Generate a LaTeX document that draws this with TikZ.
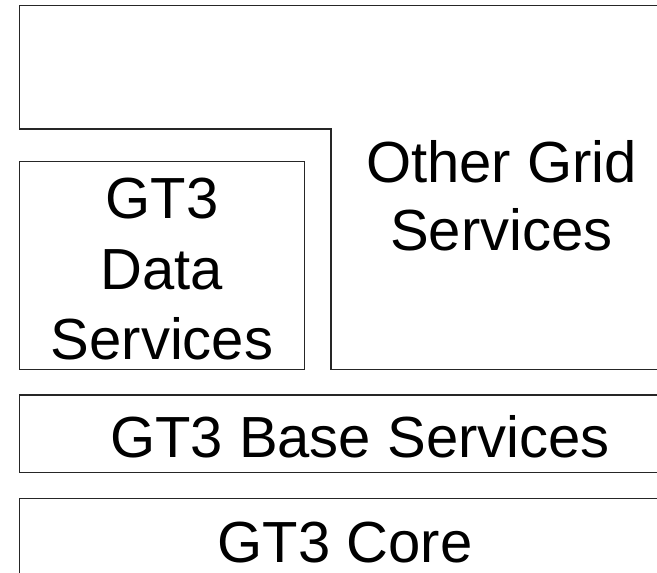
\documentclass[tikz,border=0pt]{standalone}
\usepackage{fontspec}
\setmainfont{Liberation Sans}
\begin{document}
\begin{tikzpicture}[x=1pt,y=-1pt,
  layer/.style={draw=black!85,line width=1.3pt},
  lbl/.style={font=\fontsize{58}{67}\selectfont,anchor=base,inner sep=0pt,align=center}]
\useasboundingbox (0,0) rectangle (657,573);
\clip (0,0) rectangle (657,573);
% Other Grid Services (L-shape)
\draw[layer] (19.5,5.5) -- (700,5.5) -- (700,369.5) -- (331,369.5) -- (331,129) -- (19.5,129) -- cycle;
% GT3 Data Services
\draw[layer] (19.5,161.5) rectangle (304.5,369.5);
% GT3 Base Services
\draw[layer] (19.5,395) rectangle (700,472.5);
% GT3 Core
\draw[layer] (19.5,498.5) rectangle (700,620);
\node[lbl] (other) at (501.5,182) {Other Grid};
\node[lbl] (other2) at (501.5,250) {Services};
\node[lbl] (data1) at (162,218) {GT3};
\node[lbl] (data2) at (162,289) {Data};
\node[lbl] (data3) at (162,359) {Services};
\node[lbl] (base) at (360,457) {GT3 Base Services};
\node[lbl,text depth=0pt] (core) at (345,562) {GT3 Core};
\end{tikzpicture}
\end{document}
